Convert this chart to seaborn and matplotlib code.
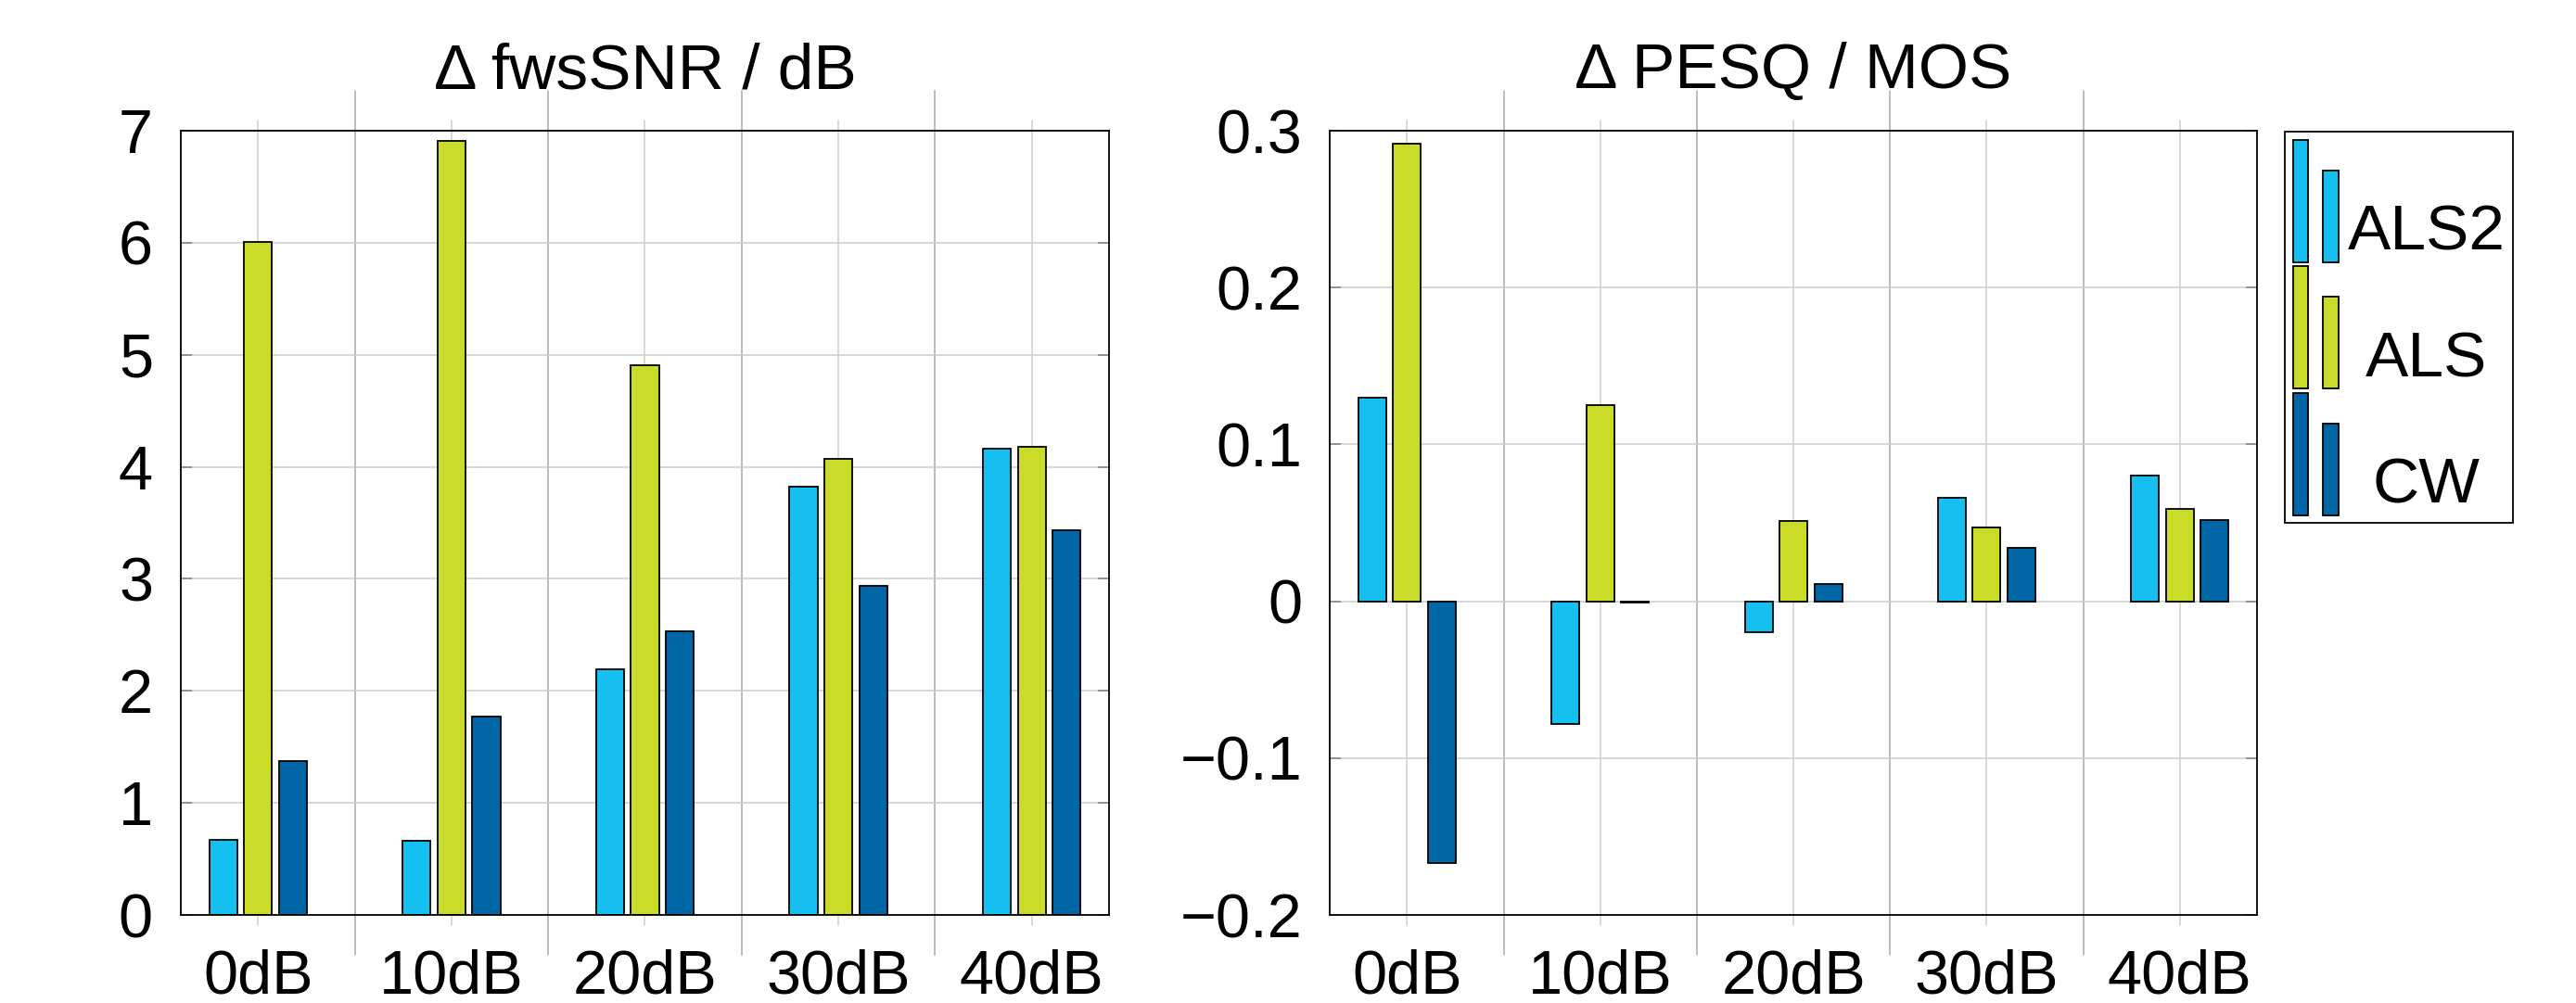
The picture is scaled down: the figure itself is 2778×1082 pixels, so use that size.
import numpy as np
import pandas as pd
import matplotlib
matplotlib.use("Agg")
import matplotlib.pyplot as plt
import seaborn as sns
from matplotlib.legend_handler import HandlerBase
from matplotlib.patches import Rectangle

# ---------------- data ----------------
categories = ["0dB", "10dB", "20dB", "30dB", "40dB"]
methods = ["ALS2", "ALS", "CW"]

fwssnr_als2 = [0.67, 0.66, 2.19, 3.82, 4.16]
fwssnr_als = [6.01, 6.91, 4.91, 4.07, 4.18]
fwssnr_cw = [1.37, 1.77, 2.53, 2.94, 3.43]

pesq_als2 = [0.130, -0.078, -0.020, 0.066, 0.080]
pesq_als = [0.292, 0.125, 0.051, 0.047, 0.059]
pesq_cw = [-0.167, -0.001, 0.011, 0.034, 0.052]

fwssnr_ticks = [0, 1, 2, 3, 4, 5, 6, 7]
fwssnr_tick_labels = ["0", "1", "2", "3", "4", "5", "6", "7"]
pesq_ticks = [-0.2, -0.1, 0.0, 0.1, 0.2, 0.3]
pesq_tick_labels = ["\u22120.2", "\u22120.1", "0", "0.1", "0.2", "0.3"]

titles = ["\u0394 fwsSNR / dB", "\u0394 PESQ / MOS"]
colors = ["#15C0F0", "#CADB2A", "#0066A6"]

# ---------------- style ----------------
sns.set_style("white")
plt.rcParams["font.family"] = ["Liberation Sans", "DejaVu Sans"]
plt.rcParams["text.color"] = "black"
plt.rcParams["axes.labelcolor"] = "black"
plt.rcParams["xtick.labelcolor"] = "black"
plt.rcParams["ytick.labelcolor"] = "black"

W, H = 2778, 1082
DPI = 100
fig = plt.figure(figsize=(W / DPI, H / DPI), dpi=DPI)


def long_frame(a, b, c):
    rows = []
    for m, vals in zip(methods, [a, b, c]):
        for cat, v in zip(categories, vals):
            rows.append({"cond": cat, "method": m, "value": v})
    return pd.DataFrame(rows)


df1 = long_frame(fwssnr_als2, fwssnr_als, fwssnr_cw)
df2 = long_frame(pesq_als2, pesq_als, pesq_cw)

ax1 = fig.add_axes([195 / W, 1 - 987 / H, 1001 / W, (987 - 141) / H])
ax2 = fig.add_axes([1434 / W, 1 - 987 / H, 1000 / W, (987 - 141) / H])

specs = [
    (ax1, df1, (0, 7), fwssnr_ticks, fwssnr_tick_labels, titles[0]),
    (ax2, df2, (-0.2, 0.3), pesq_ticks, pesq_tick_labels, titles[1]),
]

FS = 48
TFS = 50
for ax, df, ylim, yt, ytl, title in specs:
    sns.barplot(data=df, x="cond", y="value", hue="method", order=categories,
                hue_order=methods, palette=colors, saturation=1, width=0.54,
                gap=0.2, edgecolor="black", linewidth=1.3, errorbar=None,
                legend=False, ax=ax)
    ax.set_xlim(-0.4, len(categories) - 0.6)
    ax.set_ylim(*ylim)
    ax.set_yticks(yt)
    ax.set_yticklabels(ytl)
    ax.set_xlabel("")
    ax.set_ylabel("")
    ax.set_title(title, fontsize=TFS, pad=33, color="black")
    ax.tick_params(axis="y", direction="in", length=8.6, width=1.1,
                   color="#7f7f7f", left=True, right=True, labelsize=FS,
                   pad=21.6, labelcolor="black")
    ax.tick_params(axis="x", length=0, labelsize=FS, pad=26,
                   labelcolor="black")
    ax.yaxis.grid(True, color="#cccccc", linewidth=1.1)
    ax.xaxis.grid(False)
    ax.set_axisbelow(True)
    for i in range(len(categories)):
        ax.axvline(i, ymin=-0.013, ymax=1.013, color="#cfcfcf", lw=1.1,
                   clip_on=False, zorder=0.5)
    for i in range(len(categories) - 1):
        ax.axvline(i + 0.5, ymin=-0.051, ymax=1.051, color="#a8a8a8", lw=1.1,
                   clip_on=False, zorder=0.5)
    for s in ax.spines.values():
        s.set_visible(True)
        s.set_color("black")
        s.set_linewidth(1.3)


# ---------------- legend ----------------
class TwoBarHandler(HandlerBase):
    def create_artists(self, legend, orig_handle, xdescent, ydescent, width,
                       height, fontsize, trans):
        fc = orig_handle.get_facecolor()
        bw = width * 0.34
        r1 = Rectangle((-xdescent, -ydescent), bw, height, facecolor=fc,
                       edgecolor="black", linewidth=1.3, transform=trans)
        r2 = Rectangle((-xdescent + width - bw, -ydescent), bw, height * 0.75,
                       facecolor=fc, edgecolor="black", linewidth=1.3,
                       transform=trans)
        return [r1, r2]


proxies = [Rectangle((0, 0), 1, 1, facecolor=c) for c in colors]
LFS = 50
leg = fig.legend(proxies, methods, handler_map={Rectangle: TwoBarHandler()},
                 loc="upper left", bbox_to_anchor=(2464 / W, 1 - 142 / H),
                 bbox_transform=fig.transFigure, borderaxespad=0,
                 fontsize=LFS, handlelength=0.706, handleheight=2.546,
                 labelspacing=0.065, borderpad=0.125, handletextpad=0.144,
                 frameon=True, fancybox=False, framealpha=1, edgecolor="black",
                 labelcolor="black")
leg.get_frame().set_linewidth(1.3)

fig.canvas.draw()
renderer = fig.canvas.get_renderer()
widths = [t.get_window_extent(renderer).width for t in leg.get_texts()]
maxw = max(widths)
for t, w in zip(leg.get_texts(), widths):
    t.set_position(((maxw - w) / 2, -32))

fig.savefig("out.png", dpi=DPI)
